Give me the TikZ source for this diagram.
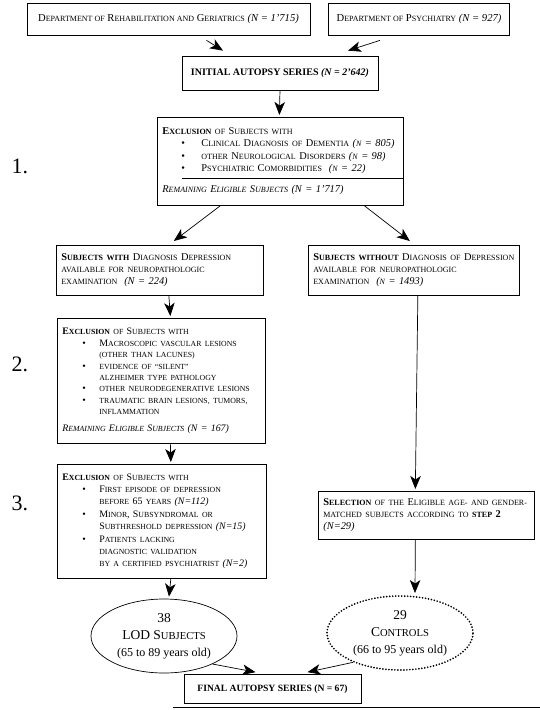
\documentclass[tikz,border=0pt]{standalone}
\usepackage{fontspec}
\setmainfont{Liberation Serif}
\usetikzlibrary{arrows.meta,shapes.geometric}
\setlength\parindent{0pt}
\def\skz{7.6}
\newcommand\sk[1]{{\fontsize{\skz}{\skz}\selectfont #1}}
\newlength\bulind \newlength\bultxt
\newcommand\bl[1]{\par\hspace*{\bulind}\makebox[\bultxt][l]{\textbullet}#1}
\newcommand\ct[1]{\par\hspace*{\dimexpr\bulind+\bultxt\relax}#1}
\tikzset{
  box/.style={draw, line width=0.7pt, inner xsep=5pt, inner ysep=4pt},
  arr/.style={-{Stealth[length=13pt,width=10.5pt,inset=3.5pt]}, line width=0.7pt},
  fA/.style={font=\fontsize{10.6}{12}\selectfont\def\skz{8.0}},
  fB/.style={font=\fontsize{10.4}{12.2}\selectfont\def\skz{8.0}\setlength\bulind{19pt}\setlength\bultxt{20pt}},
  fC/.style={font=\fontsize{9.9}{11.4}\selectfont\def\skz{7.8}\setlength\bulind{20pt}\setlength\bultxt{17pt}},
  fD/.style={font=\fontsize{9.9}{12.4}\selectfont\def\skz{7.8}\setlength\bulind{20pt}\setlength\bultxt{17pt}},
  step label/.style={font=\fontsize{22}{22}\selectfont},
  ell/.style={ellipse, minimum width=146pt, minimum height=74pt, align=center, inner sep=0pt,
              font=\fontsize{13.5}{15}\selectfont\def\skz{10.6}},
}
\begin{document}
\begin{tikzpicture}[x=1pt,y=-1pt]
\useasboundingbox (0,0) rectangle (540,710);
% top boxes
\node[box,fA,minimum width=283pt,minimum height=32pt] (A) at (168.5,19)
  {D\sk{EPARTMENT OF} R\sk{EHABILITATION AND} G\sk{ERIATRICS} \textit{(N = 1'715)}};
\node[box,fA,minimum width=181pt,minimum height=32pt] (B) at (419,19)
  {D\sk{EPARTMENT OF} P\sk{SYCHIATRY} \textit{(N = 927)}};
\node[box,minimum width=196pt,minimum height=34pt,font=\fontsize{10}{12}\selectfont\bfseries] (Init) at (280,73)
  {INITIAL AUTOPSY SERIES \textit{(N = 2'642)}};
% exclusion 1
\node[box,fB,anchor=north west,text width=236pt,minimum height=88pt,align=left,inner ysep=3pt] (Ex1) at (157,117)
  {\textbf{E\sk{XCLUSION}} \sk{OF} S\sk{UBJECTS WITH}
   \bl{C\sk{LINICAL} D\sk{IAGNOSIS OF} D\sk{EMENTIA} \textit{(\sk{N} = 805)}}
   \bl{\sk{OTHER} N\sk{EUROLOGICAL} D\sk{ISORDERS} \textit{(\sk{N} = 98)}}
   \bl{P\sk{SYCHIATRIC} C\sk{OMORBIDITIES} \ \textit{(\sk{N} = 22)}}
   \par\vspace{9pt}
   {\itshape R\sk{EMAINING} E\sk{LIGIBLE} S\sk{UBJECTS} (N = 1'717)}};
\coordinate (sepL) at (182,178);
\draw[line width=0.6pt] (sepL) -- (sepL -| Ex1.east);
% second row
\node[box,fB,anchor=north west,text width=197pt,minimum height=50pt,align=left,inner ysep=3pt] (L1) at (56,245)
  {\textbf{S\sk{UBJECTS WITH}} D\sk{IAGNOSIS} D\sk{EPRESSION}\par
   \sk{AVAILABLE FOR NEUROPATHOLOGIC}\par
   \sk{EXAMINATION} \ \textit{(N = 224)}};
\node[box,fB,anchor=north west,text width=201pt,minimum height=50pt,align=left,inner ysep=3pt] (R1) at (308,245)
  {\textbf{S\sk{UBJECTS WITHOUT}} D\sk{IAGNOSIS OF} D\sk{EPRESSION}\par
   \sk{AVAILABLE FOR NEUROPATHOLOGIC}\par
   \sk{EXAMINATION} \ \textit{(\sk{N} = 1493)}};
% exclusion 2
\node[box,fC,anchor=north west,text width=198pt,minimum height=125pt,align=left,inner ysep=3pt] (L2) at (57,318)
  {\textbf{E\sk{XCLUSION}} \sk{OF} S\sk{UBJECTS WITH}
   \bl{M\sk{ACROSCOPIC VASCULAR LESIONS}}
   \ct{\sk{(OTHER THAN LACUNES)}}
   \bl{\sk{EVIDENCE OF ``SILENT''}}
   \ct{\sk{ALZHEIMER TYPE PATHOLOGY}}
   \bl{\sk{OTHER NEURODEGENERATIVE LESIONS}}
   \bl{\sk{TRAUMATIC BRAIN LESIONS, TUMORS,}}
   \ct{\sk{INFLAMMATION}}
   \par\vspace{5pt}
   {\itshape R\sk{EMAINING} E\sk{LIGIBLE} S\sk{UBJECTS} (N = 167)}};
% exclusion 3
\node[box,fD,anchor=north west,text width=199pt,minimum height=114pt,align=left,inner ysep=3pt] (L3) at (57,464)
  {\textbf{E\sk{XCLUSION}} \sk{OF} S\sk{UBJECTS WITH}
   \bl{F\sk{IRST EPISODE OF DEPRESSION}}
   \ct{\sk{BEFORE} 65 \sk{YEARS} \textit{(N=112)}}
   \bl{M\sk{INOR}, S\sk{UBSYNDROMAL OR}}
   \ct{S\sk{UBTHRESHOLD DEPRESSION} \textit{(N=15)}}
   \bl{P\sk{ATIENTS LACKING}}
   \ct{\sk{DIAGNOSTIC VALIDATION}}
   \ct{\sk{BY A CERTIFIED PSYCHIATRIST} \textit{(N=2)}}};
% selection
\node[box,fB,anchor=north west,text width=206pt,minimum height=48pt,align=left,inner ysep=3pt] (R2) at (318,491)
  {\textbf{S\sk{ELECTION}} \sk{OF THE} E\sk{LIGIBLE AGE- AND GENDER-}\par
   \sk{MATCHED SUBJECTS ACCORDING TO} \textbf{\sk{STEP} 2}\par
   \textit{(N=29)}};
% ellipses
\node[ell,draw,line width=0.7pt] (LOD) at (164,636)
  {38\\[2pt] LOD S\sk{UBJECTS}\\[2pt] {\fontsize{12}{13}\selectfont (65 to 89 years old)}};
\node[ell,draw,line width=1.9pt,dash pattern=on 0pt off 3pt,line cap=round] (CTL) at (400,633)
  {29\\[2pt] C\sk{ONTROLS}\\[2pt] {\fontsize{12}{13}\selectfont (66 to 95 years old)}};
% final
\node[box,minimum width=177pt,minimum height=29pt,font=\fontsize{9.6}{11}\selectfont\bfseries] (Fin) at (272.5,689)
  {FINAL AUTOPSY SERIES (N = 67)};
\coordinate (ruleL) at (173,707);
\coordinate (ruleR) at (540,707);
\draw[line width=0.6pt] (ruleL) -- (ruleR);
% step labels
\node[step label] (s1) at (20,166) {1.};
\node[step label] (s2) at (20,364) {2.};
\node[step label] (s3) at (20,503) {3.};
% connectors
\draw[arr] ([xshift=38pt,yshift=-5pt]A.south) -- ([xshift=-57pt,yshift=5pt]Init.north);
\draw[arr] ([xshift=-39pt,yshift=-5pt]B.south) -- ([xshift=68pt,yshift=5pt]Init.north);
\draw[arr] (Init.south) -- ([xshift=-1pt,yshift=2pt]Ex1.north);
\draw[arr] ([xshift=-60pt]Ex1.south) -- ([xshift=14pt,yshift=4pt]L1.north);
\draw[arr] ([xshift=84pt]Ex1.south) -- ([xshift=-4pt,yshift=4pt]R1.north);
\draw[arr] ([xshift=9pt]L1.south) -- ([xshift=9pt,yshift=2pt]L2.north);
\draw[arr] ([xshift=9pt]L2.south) -- ([xshift=9pt,yshift=2pt]L3.north);
\draw[arr] ([xshift=9pt]L3.south) -- ([xshift=5pt,yshift=2pt]LOD.north);
\draw[arr] ([xshift=4pt]R1.south) -- ([xshift=-11pt,yshift=2pt]R2.north);
\draw[arr] ([xshift=-11pt]R2.south) -- ([xshift=15pt,yshift=2pt]CTL.north);
\draw[arr] (LOD.-30) -- ([xshift=-17pt,yshift=2pt]Fin.north);
\draw[arr] (CTL.-148) -- ([xshift=35pt,yshift=2pt]Fin.north);
\end{tikzpicture}
\end{document}
